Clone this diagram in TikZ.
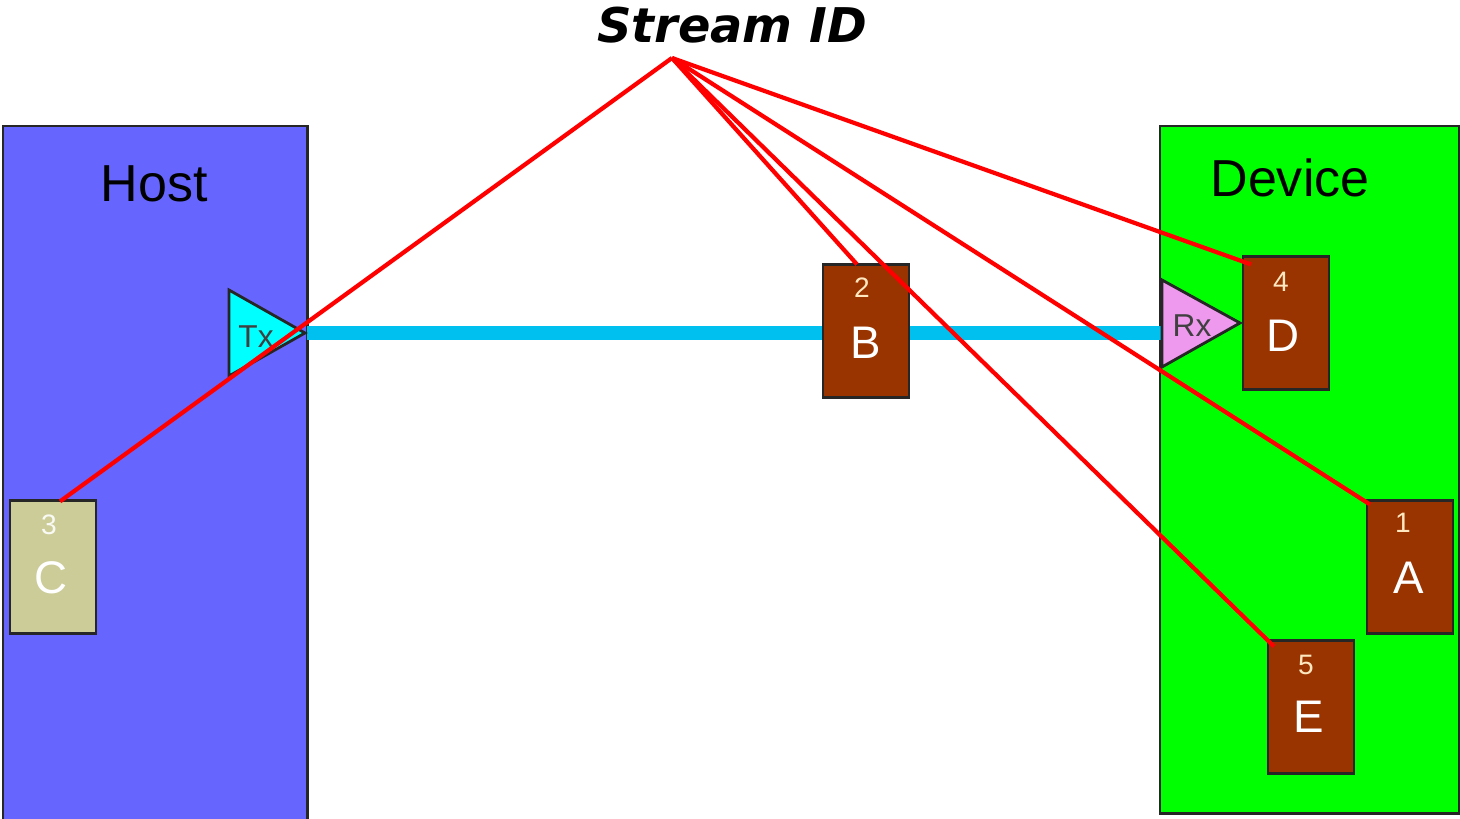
\documentclass[tikz,border=0pt]{standalone}
\usepackage{fontspec}
\setmainfont{Liberation Sans}
\newfontfamily\titlefont{DejaVu Sans}
\usetikzlibrary{calc}
\definecolor{hostblue}{HTML}{6666FF}
\definecolor{devgreen}{HTML}{00FF00}
\definecolor{barcyan}{HTML}{00C0F0}
\definecolor{txcyan}{HTML}{00FFFF}
\definecolor{rxpink}{HTML}{EE99EE}
\definecolor{boxbrown}{HTML}{993300}
\definecolor{khaki}{HTML}{CCCC99}
\definecolor{numcream}{HTML}{FFE8C0}
\definecolor{sred}{HTML}{FF0000}
\tikzset{
  panel/.style={draw=black!85, line width=0.7pt, inner sep=0pt},
  pkt/.style={draw=black!85, line width=0.6pt, fill=boxbrown, minimum width=0.86cm, minimum height=1.33cm, inner sep=0pt},
  pktC/.style={pkt, fill=khaki},
  pktlbl/.style={text=white, font=\fontsize{13pt}{13pt}\selectfont},
  pktnum/.style={text=numcream, font=\fontsize{8pt}{8pt}\selectfont},
  panellbl/.style={text=black, font=\fontsize{14.8pt}{15pt}\selectfont},
  trlbl/.style={text=black!75, font=\fontsize{9pt}{9pt}\selectfont},
  sid/.style={sred, line width=1.2pt},
  tri/.style={draw=black!85, line width=0.8pt, line join=miter}
}
\begin{document}
\begin{tikzpicture}[x=0.01cm, y=-0.01cm]
\useasboundingbox (0,0) rectangle (1460,819);
% panels
\node[panel, fill=hostblue, anchor=north west, minimum width=3.04cm, minimum height=7.0cm] (host) at (2,125) {};
\node[panel, fill=devgreen, anchor=north west, minimum width=2.99cm, minimum height=6.87cm] (dev) at (1159,125) {};
\node[panellbl] (hostlbl) at (154,184) {Host};
\node[panellbl] (devlbl) at (1290,178) {Device};
% link bar
\node[fill=barcyan, anchor=west, minimum width=8.54cm, minimum height=0.14cm, inner sep=0pt] (bar) at (306,333) {};
% Tx / Rx
\coordinate (txa) at (229,290);
\coordinate (txb) at (229,376);
\coordinate (txc) at (305,333);
\draw[tri, fill=txcyan] (txa) -- (txc) -- (txb) -- cycle;
\node[trlbl] (txlbl) at (256,337) {Tx};
\coordinate (rxa) at (1162,280);
\coordinate (rxb) at (1162,367);
\coordinate (rxc) at (1240,323);
\draw[tri, fill=rxpink] (rxa) -- (rxc) -- (rxb) -- cycle;
\node[trlbl] (rxlbl) at (1192,326) {Rx};
% packets
\node[pkt] (B) at (866,331) {};
\node[pktnum] at (862,288) {2};
\node[pktlbl] at (866,343) {B};
\node[pkt] (D) at (1286,323) {};
\node[pktnum] at (1281,282) {4};
\node[pktlbl] at (1283,336) {D};
\node[pkt] (A) at (1410,567) {};
\node[pktnum] at (1403,523) {1};
\node[pktlbl] at (1409,578) {A};
\node[pkt] (E) at (1311,707) {};
\node[pktnum] at (1306,665) {5};
\node[pktlbl] at (1309,717) {E};
\node[pktC] (C) at (53,567) {};
\node[pktnum, text=white!90!khaki] at (49,525) {3};
\node[pktlbl] at (51,578) {C};
% title
\node[font=\titlefont\bfseries\itshape\fontsize{13.6pt}{14pt}\selectfont] (sid) at (732,25) {Stream ID};
\coordinate (apex) at (672,58);
% connectors
\draw[sid] (apex) -- ($(C.north)+(7,2)$);
\draw[sid] (apex) -- ($(B.north)+(-9,1)$);
\draw[sid] (apex) -- ($(E.north west)+(7,7)$);
\draw[sid] (apex) -- ($(A.north west)+(4,5)$);
\draw[sid] (apex) -- ($(D.north west)+(9,9)$);
\end{tikzpicture}
\end{document}
